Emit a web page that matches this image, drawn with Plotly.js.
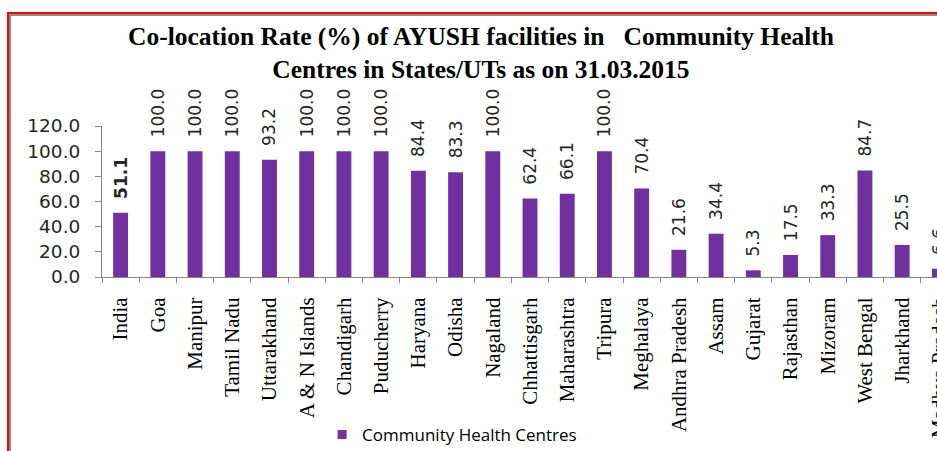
<!DOCTYPE html>
<html>
<head>
<meta charset="utf-8">
<script src="https://cdn.plot.ly/plotly-3.0.1.min.js"></script>
<style>
  html, body { margin: 0; padding: 0; background: #ffffff; overflow: hidden; width: 937px; height: 451px; }
  #chart { position: absolute; left: 0; top: 0; width: 980px; height: 451px; }
  .frame { position: absolute; pointer-events: none; }
</style>
</head>
<body>
<div id="chart"></div>
<div class="frame" style="left:7px; top:12px; width:2px; height:460px; background:#ff0000;"></div>
<div class="frame" style="left:7px; top:12px; width:960px; height:2px; background:#ff0000;"></div>
<div class="frame" style="left:9px; top:14px; width:2px; height:460px; background:#8c8c8c;"></div>
<div class="frame" style="left:9px; top:14px; width:960px; height:2px; background:#8c8c8c;"></div>
<script>
const categories = ["India","Goa","Manipur","Tamil Nadu","Uttarakhand","A & N Islands","Chandigarh","Puducherry","Haryana","Odisha","Nagaland","Chhattisgarh","Maharashtra","Tripura","Meghalaya","Andhra Pradesh","Assam","Gujarat","Rajasthan","Mizoram","West Bengal","Jharkhand","Madhya Pradesh"];
const rates = [51.1,100.0,100.0,100.0,93.2,100.0,100.0,100.0,84.4,83.3,100.0,62.4,66.1,100.0,70.4,21.6,34.4,5.3,17.5,33.3,84.7,25.5,6.6];
const seriesName = "Community Health Centres";
const yTicks = [0,20,40,60,80,100,120];

const pad = "\u00a0\u00a0";
const labels = rates.map((v, i) => i === 0 ? pad + "<b>" + v.toFixed(1) + "</b>" : pad + v.toFixed(1));

const purple = "#7030A0";

const traces = [
  {
    type: "bar",
    x: categories,
    y: rates,
    text: labels,
    texttemplate: "%{text}",
    textposition: "outside",
    textangle: -90,
    constraintext: "none",
    cliponaxis: false,
    textfont: { family: "DejaVu Sans", size: 17, color: "#262626" },
    marker: { color: purple, line: { width: 0 } },
    showlegend: false,
    hoverinfo: "skip"
  },
  {
    type: "scatter",
    mode: "markers",
    x: [null],
    y: [null],
    name: seriesName,
    marker: { symbol: "square", size: 9, color: purple },
    showlegend: true
  }
];

const layout = {
  width: 980,
  height: 451,
  margin: { l: 102, r: 22.4, t: 126, b: 174, autoexpand: false },
  paper_bgcolor: "#ffffff",
  plot_bgcolor: "#ffffff",
  title: {
    text: "Co-location Rate (%) of AYUSH facilities in\u00a0\u00a0 Community Health<br>Centres in States/UTs as on 31.03.2015",
    font: { family: "Liberation Serif", size: 25.5, color: "#000000", weight: "bold" },
    x: 481 / 980,
    xanchor: "center",
    y: 1 - 45 / 451,
    yanchor: "middle"
  },
  bargap: 0.6,
  xaxis: {
    type: "category",
    range: [-0.5, 22.5],
    showline: true,
    linecolor: "#868686",
    linewidth: 1,
    ticks: "outside",
    tickson: "boundaries",
    ticklen: 5,
    tickcolor: "#868686",
    tickangle: -90,
    ticklabelstandoff: 11,
    tickfont: { family: "Liberation Serif", size: 21, color: "#000000" },
    showgrid: false,
    zeroline: false,
    fixedrange: true
  },
  yaxis: {
    range: [0, 120],
    tickvals: yTicks,
    tickformat: ".1f",
    showline: true,
    linecolor: "#868686",
    linewidth: 1,
    ticks: "outside",
    ticklen: 6,
    tickcolor: "#868686",
    ticklabelstandoff: 11,
    tickfont: { family: "DejaVu Sans", size: 18.5, color: "#262626" },
    showgrid: false,
    zeroline: false,
    fixedrange: true
  },
  showlegend: true,
  legend: {
    orientation: "h",
    x: (322 - 102) / 855.6,
    xanchor: "left",
    y: -(435 - 277) / 151,
    yanchor: "middle",
    font: { family: "Open Sans", size: 17, color: "#000000" },
    bgcolor: "rgba(0,0,0,0)"
  }
};

Plotly.newPlot("chart", traces, layout, { displayModeBar: false, staticPlot: true });
</script>
</body>
</html>
